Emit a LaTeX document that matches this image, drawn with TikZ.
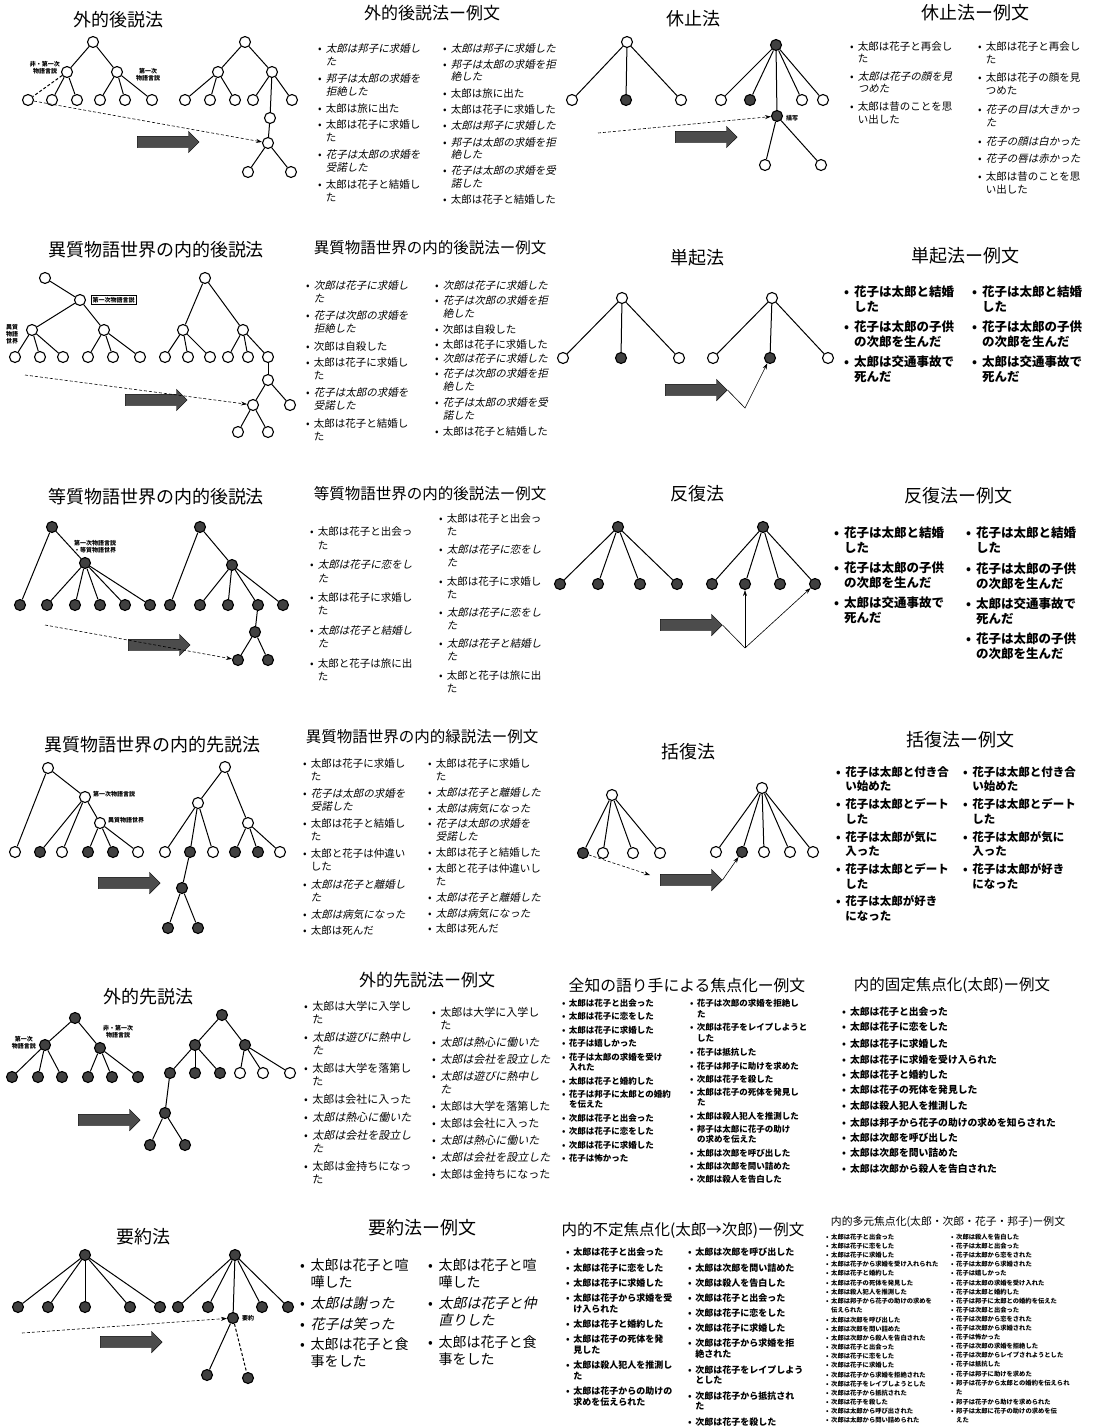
\documentclass[tikz,border=0pt]{standalone}
\usepackage{fontspec}
\usepackage{array}
\setmainfont{Noto Sans CJK JP}
\newfontfamily\slantjp[FakeSlant=0.22]{Noto Sans CJK JP}
\usetikzlibrary{arrows.meta,shapes.arrows}
\newlength{\itmgap}
\newcommand{\lst}[2]{\fontsize{#1}{#2}\selectfont}
% one bullet line, upright or slanted
\newcommand{\itm}[1]{\textbullet\hspace{0.4em}%
  \begin{tabular}[t]{@{}l@{}}#1\end{tabular}\par\vspace{\itmgap}}
\newcommand{\its}[1]{\textbullet\hspace{0.4em}%
  \begin{tabular}[t]{@{}>{\slantjp}l@{}}#1\end{tabular}\par\vspace{\itmgap}}

\begin{document}
\begin{tikzpicture}[x=1pt,y=-1pt,
  ev/.style={circle,draw,line width=1.1pt,fill=white,minimum size=11pt,inner sep=0pt},
  evd/.style={ev,fill=black!75},
  edge/.style={line width=1pt},
  jump/.style={densely dashed,line width=0.6pt,-{Stealth[length=6pt,width=4pt]}},
  thinarr/.style={line width=0.6pt,-{Stealth[length=6pt,width=4pt]}},
  bigarrow/.style={single arrow,draw=black,fill=black!70,minimum height=62pt,
    single arrow head extend=5pt,inner sep=5.5pt,anchor=west},
  ttl/.style={inner sep=0pt,font=\lst{#1}{#1}},
  tag/.style={inner sep=0pt,align=center,font=\lst{6}{7}\bfseries},
  exlist/.style={anchor=north west,inner sep=0pt,align=left,text width=#1},
  exlist/.default=130pt]
\fill[white] (0,0) rectangle (1095,1428);
\useasboundingbox (0,0) rectangle (1095,1428);

% ---------------- row 1: 外的後説法 / 休止法
\node[ttl=18] (tt1) at (118,20) {外的後説法};
\node[ev] (a0) at (93,42) {};
\node[ev] (a1) at (67,72) {};
\node[ev] (a2) at (117,72) {};
\foreach \n/\x in {3/28,4/52,5/77,6/100,7/125,8/152}
  \node[ev] (a\n) at (\x,100) {};
\draw[edge] (a0) -- (a1);
\draw[edge] (a0) -- (a2);
\draw[edge,densely dashed] (a1) -- (a3);
\foreach \n in {4,5} \draw[edge] (a1) -- (a\n);
\foreach \n in {6,7,8} \draw[edge] (a2) -- (a\n);
\node[tag] (a1t) at (45,68) {非・第一次\\物語言説};
\node[tag] (a2t) at (148,75) {第一次\\物語言説};
\node[ev] (b0) at (245,42) {};
\node[ev] (b1) at (218,72) {};
\node[ev] (b2) at (272,72) {};
\foreach \n/\x in {3/185,4/210,5/235,6/253,8/292}
  \node[ev] (b\n) at (\x,100) {};
\node[ev] (b7) at (270,118) {};
\node[ev] (b9) at (268,143) {};
\node[ev] (b10) at (248,172) {};
\node[ev] (b11) at (291,172) {};
\draw[edge] (b0) -- (b1);
\draw[edge] (b0) -- (b2);
\foreach \n in {3,4,5} \draw[edge] (b1) -- (b\n);
\foreach \n in {6,7,8} \draw[edge] (b2) -- (b\n);
\draw[edge] (b7) -- (b9);
\draw[edge] (b9) -- (b10);
\draw[edge] (b9) -- (b11);
\node[bigarrow] (ba1) at (137,142) {};
\draw[jump] (a3) -- (b9);

\node[ttl=17] (tt2) at (432,13) {外的後説法ー例文};
\node[exlist=130pt,font=\lst{10.5}{13}] (x1l) at (318,43) {\setlength{\itmgap}{3pt}%
  \its{太郎は邦子に求婚し\\た}
  \its{邦子は太郎の求婚を\\拒絶した}
  \itm{太郎は旅に出た}
  \itm{太郎は花子に求婚し\\た}
  \its{花子は太郎の求婚を\\受諾した}
  \itm{太郎は花子と結婚し\\た}};
\node[exlist=130pt,font=\lst{10.5}{12.5}] (x1r) at (443,43) {\setlength{\itmgap}{2.7pt}%
  \its{太郎は邦子に求婚した}
  \its{邦子は太郎の求婚を拒\\絶した}
  \itm{太郎は旅に出た}
  \itm{太郎は花子に求婚した}
  \its{太郎は邦子に求婚した}
  \its{邦子は太郎の求婚を拒\\絶した}
  \its{花子は太郎の求婚を受\\諾した}
  \itm{太郎は花子と結婚した}};

\node[ttl=18] (tt3) at (693,19) {休止法};
\node[ev] (c0) at (627,42) {};
\node[ev] (c1) at (572,100) {};
\node[evd] (c2) at (626,100) {};
\node[ev] (c3) at (681,100) {};
\foreach \n in {1,2,3} \draw[edge] (c0) -- (c\n);
\node[evd] (c4) at (776,45) {};
\node[ev] (c5) at (721,100) {};
\node[evd] (c6) at (750,100) {};
\node[evd] (c7) at (777,116) {};
\node[ev] (c8) at (802,100) {};
\node[ev] (c9) at (823,100) {};
\node[ev] (c10) at (765,165) {};
\node[ev] (c11) at (821,165) {};
\foreach \n in {5,6,7,8,9} \draw[edge] (c4) -- (c\n);
\draw[edge] (c7) -- (c10);
\draw[edge] (c7) -- (c11);
\node[tag,anchor=west] (c7t) at (786,118) {描写};
\node[bigarrow] (ba2) at (675,137) {};
\coordinate (c12) at (598,133);
\draw[jump] (c12) -- (c7);

\node[ttl=18] (tt4) at (975,13) {休止法ー例文};
\node[exlist=130pt,font=\lst{10.5}{12.5}] (x2l) at (850,41) {\setlength{\itmgap}{4.3pt}%
  \itm{太郎は花子と再会し\\た}
  \its{太郎は花子の顔を見\\つめた}
  \itm{太郎は昔のことを思\\い出した}};
\node[exlist=130pt,font=\lst{10.5}{13}] (x2r) at (978,41) {\setlength{\itmgap}{4.6pt}%
  \itm{太郎は花子と再会し\\た}
  \itm{太郎は花子の顔を見\\つめた}
  \its{花子の目は大きかっ\\た}
  \its{花子の顔は白かった}
  \its{花子の唇は赤かった}
  \itm{太郎は昔のことを思\\い出した}};

% ---------------- row 2: 異質物語世界の内的後説法 / 単起法
\node[ttl=18] (tt5) at (156,250) {異質物語世界の内的後説法};
\node[ev] (d0) at (45,278) {};
\node[ev] (d1) at (80,300) {};
\node[ev] (d2) at (32,330) {};
\node[ev] (d3) at (104,330) {};
\foreach \n/\x in {4/15,5/40,6/63,7/88,8/113,9/140}
  \node[ev] (d\n) at (\x,357) {};
\draw[edge] (d0) -- (d1);
\draw[edge] (d1) -- (d2);
\draw[edge] (d1) -- (d3);
\foreach \n in {4,5,6} \draw[edge] (d2) -- (d\n);
\foreach \n in {7,8,9} \draw[edge] (d3) -- (d\n);
\node[tag,draw,thin,inner sep=1.5pt,anchor=west] (d1t) at (91,300) {第一次物語言説};
\node[tag] (d2t) at (12,334) {異質\\物語\\世界};
\node[ev] (e0) at (205,278) {};
\node[ev] (e1) at (183,330) {};
\node[ev] (e2) at (243,330) {};
\foreach \n/\x in {3/165,4/188,5/210,6/228,7/248,8/268}
  \node[ev] (e\n) at (\x,357) {};
\node[ev] (e9) at (268,380) {};
\node[ev] (e10) at (253,405) {};
\node[ev] (e11) at (290,405) {};
\node[ev] (e12) at (238,432) {};
\node[ev] (e13) at (268,432) {};
\draw[edge] (e0) -- (e1);
\draw[edge] (e0) -- (e2);
\foreach \n in {3,4,5} \draw[edge] (e1) -- (e\n);
\foreach \n in {6,7,8} \draw[edge] (e2) -- (e\n);
\draw[edge] (e8) -- (e9);
\draw[edge] (e9) -- (e10);
\draw[edge] (e9) -- (e11);
\draw[edge] (e10) -- (e12);
\draw[edge] (e10) -- (e13);
\node[bigarrow] (ba3) at (125,400) {};
\coordinate (d10) at (25,375);
\draw[jump] (d10) -- (e10);

\node[ttl=15.5] (tt6) at (430,248) {異質物語世界の内的後説法ー例文};
\node[exlist=130pt,font=\lst{10.5}{13}] (x3l) at (306,280) {\setlength{\itmgap}{3.4pt}%
  \its{次郎は花子に求婚し\\た}
  \its{花子は次郎の求婚を\\拒絶した}
  \itm{次郎は自殺した}
  \itm{太郎は花子に求婚し\\た}
  \its{花子は太郎の求婚を\\受諾した}
  \itm{太郎は花子と結婚し\\た}};
\node[exlist=130pt,font=\lst{10.5}{13}] (x3r) at (435,280) {\setlength{\itmgap}{1.9pt}%
  \its{次郎は花子に求婚した}
  \its{花子は次郎の求婚を拒\\絶した}
  \itm{次郎は自殺した}
  \itm{太郎は花子に求婚した}
  \its{次郎は花子に求婚した}
  \its{花子は次郎の求婚を拒\\絶した}
  \its{花子は太郎の求婚を受\\諾した}
  \itm{太郎は花子と結婚した}};

\node[ttl=18] (tt7) at (697,258) {単起法};
\node[ev] (f0) at (622,298) {};
\node[ev] (f1) at (563,358) {};
\node[evd] (f2) at (621,358) {};
\node[ev] (f3) at (679,358) {};
\foreach \n in {1,2,3} \draw[edge] (f0) -- (f\n);
\node[ev] (g0) at (772,298) {};
\node[ev] (g1) at (713,358) {};
\node[evd] (g2) at (770,358) {};
\node[ev] (g3) at (828,358) {};
\foreach \n in {1,2,3} \draw[edge] (g0) -- (g\n);
\node[bigarrow] (ba4) at (665,390) {};
\coordinate (g4) at (745,408);
\draw[thinarr] (ba4.tip) -- (g4) -- (g2);

\node[ttl=18] (tt8) at (965,256) {単起法ー例文};
\node[exlist=130pt,font=\lst{12.5}{15}\bfseries] (x4l) at (844,286) {\setlength{\itmgap}{3.5pt}%
  \itm{花子は太郎と結婚\\した}
  \itm{花子は太郎の子供\\の次郎を生んだ}
  \itm{太郎は交通事故で\\死んだ}};
\node[exlist=130pt,font=\lst{12.5}{15}\bfseries] (x4r) at (972,286) {\setlength{\itmgap}{3.5pt}%
  \itm{花子は太郎と結婚\\した}
  \itm{花子は太郎の子供\\の次郎を生んだ}
  \itm{太郎は交通事故で\\死んだ}};

% ---------------- row 3: 等質物語世界の内的後説法 / 反復法
\node[ttl=18] (tt9) at (156,497) {等質物語世界の内的後説法};
\node[evd] (h0) at (52,527) {};
\node[evd] (h1) at (85,563) {};
\foreach \n/\x in {2/20,3/47,4/75,5/100,6/125,7/150}
  \node[evd] (h\n) at (\x,605) {};
\draw[edge] (h0) -- (h1);
\draw[edge] (h0) -- (h2);
\foreach \n in {3,...,7} \draw[edge] (h1) -- (h\n);
\node[tag] (h1t) at (95,547) {第一次物語言説\\・等質物語世界};
\node[evd] (i0) at (200,527) {};
\node[evd] (i1) at (232,565) {};
\foreach \n/\x in {2/170,3/200,4/228,5/258,6/283}
  \node[evd] (i\n) at (\x,605) {};
\node[evd] (i7) at (255,632) {};
\node[evd] (i8) at (238,660) {};
\node[evd] (i9) at (268,660) {};
\draw[edge] (i0) -- (i1);
\draw[edge] (i0) -- (i2);
\foreach \n in {3,...,6} \draw[edge] (i1) -- (i\n);
\draw[edge] (i5) -- (i7);
\draw[edge] (i7) -- (i8);
\draw[edge] (i7) -- (i9);
\node[bigarrow] (ba5) at (128,645) {};
\coordinate (h8) at (45,625);
\draw[jump] (h8) -- (i8);

\node[ttl=15.5] (tt10) at (430,494) {等質物語世界の内的後説法ー例文};
\node[exlist=130pt,font=\lst{10.5}{13.5}] (x5l) at (310,526) {\setlength{\itmgap}{4.9pt}%
  \itm{太郎は花子と出会っ\\た}
  \its{太郎は花子に恋をし\\た}
  \itm{太郎は花子に求婚し\\た}
  \its{太郎は花子と結婚し\\た}
  \itm{太郎と花子は旅に出\\た}};
\node[exlist=130pt,font=\lst{10.5}{13}] (x5r) at (439,513) {\setlength{\itmgap}{4.4pt}%
  \itm{太郎は花子と出会っ\\た}
  \its{太郎は花子に恋をし\\た}
  \itm{太郎は花子に求婚し\\た}
  \its{太郎は花子に恋をし\\た}
  \its{太郎は花子と結婚し\\た}
  \itm{太郎と花子は旅に出\\た}};

\node[ttl=18] (tt11) at (697,494) {反復法};
\node[evd] (j0) at (618,527) {};
\foreach \n/\x in {1/560,2/598,3/640,4/677}
  \node[evd] (j\n) at (\x,584) {};
\foreach \n in {1,...,4} \draw[edge] (j0) -- (j\n);
\node[evd] (k0) at (763,527) {};
\foreach \n/\x in {1/712,2/745,3/780,4/815}
  \node[evd] (k\n) at (\x,584) {};
\foreach \n in {1,...,4} \draw[edge] (k0) -- (k\n);
\node[bigarrow] (ba6) at (660,625) {};
\coordinate (k5) at (745,648);
\draw[line width=0.6pt] (ba6.tip) -- (k5);
\draw[thinarr] (k5) -- (k2);
\draw[thinarr] (k5) -- (k4);

\node[ttl=18] (tt12) at (958,496) {反復法ー例文};
\node[exlist=130pt,font=\lst{12.5}{15}\bfseries] (x6l) at (834,527) {\setlength{\itmgap}{3.5pt}%
  \itm{花子は太郎と結婚\\した}
  \itm{花子は太郎の子供\\の次郎を生んだ}
  \itm{太郎は交通事故で\\死んだ}};
\node[exlist=130pt,font=\lst{12.5}{15}\bfseries] (x6r) at (966,527) {\setlength{\itmgap}{4pt}%
  \itm{花子は太郎と結婚\\した}
  \itm{花子は太郎の子供\\の次郎を生んだ}
  \itm{太郎は交通事故で\\死んだ}
  \itm{花子は太郎の子供\\の次郎を生んだ}};

% ---------------- row 4: 異質物語世界の内的先説法 / 括復法
\node[ttl=18] (tt13) at (152,745) {異質物語世界の内的先説法};
\node[ev] (l0) at (48,768) {};
\node[ev] (l1) at (85,797) {};
\node[ev] (l2) at (100,823) {};
\node[ev] (l3) at (15,852) {};
\node[evd] (l4) at (40,852) {};
\node[ev] (l5) at (62,852) {};
\node[evd] (l6) at (88,852) {};
\node[evd] (l7) at (113,852) {};
\node[ev] (l8) at (138,852) {};
\draw[edge] (l0) -- (l3);
\draw[edge] (l0) -- (l1);
\foreach \n in {2,4,5} \draw[edge] (l1) -- (l\n);
\foreach \n in {6,7,8} \draw[edge] (l2) -- (l\n);
\node[tag,anchor=west] (l1t) at (93,794) {第一次物語言説};
\node[tag,anchor=west] (l2t) at (108,820) {異質物語世界};
\node[ev] (m0) at (225,767) {};
\node[ev] (m1) at (198,803) {};
\node[ev] (m2) at (248,823) {};
\node[ev] (m3) at (165,852) {};
\node[evd] (m4) at (190,852) {};
\node[ev] (m5) at (213,852) {};
\node[evd] (m6) at (235,852) {};
\node[evd] (m7) at (258,852) {};
\node[ev] (m8) at (280,852) {};
\node[evd] (m9) at (182,888) {};
\node[evd] (m10) at (168,928) {};
\node[evd] (m11) at (198,928) {};
\draw[edge] (m0) -- (m1);
\draw[edge] (m0) -- (m2);
\foreach \n in {3,4,5} \draw[edge] (m1) -- (m\n);
\foreach \n in {6,7,8} \draw[edge] (m2) -- (m\n);
\draw[edge] (m4) -- (m9);
\draw[edge] (m9) -- (m10);
\draw[edge] (m9) -- (m11);
\node[bigarrow] (ba7) at (98,883) {};

\node[ttl=15.5] (tt14) at (422,737) {異質物語世界の内的緑説法ー例文};
\node[exlist=130pt,font=\lst{10.5}{13}] (x7l) at (303,758) {\setlength{\itmgap}{3.2pt}%
  \itm{太郎は花子に求婚し\\た}
  \its{花子は太郎の求婚を\\受諾した}
  \itm{太郎は花子と結婚し\\た}
  \itm{太郎と花子は仲違い\\した}
  \its{太郎は花子と離婚し\\た}
  \its{太郎は病気になった}
  \itm{太郎は死んだ}};
\node[exlist=130pt,font=\lst{10.5}{13}] (x7r) at (428,758) {\setlength{\itmgap}{2.4pt}%
  \itm{太郎は花子に求婚し\\た}
  \its{太郎は花子と離婚した}
  \its{太郎は病気になった}
  \its{花子は太郎の求婚を\\受諾した}
  \itm{太郎は花子と結婚した}
  \itm{太郎と花子は仲違いし\\た}
  \its{太郎は花子と離婚した}
  \its{太郎は病気になった}
  \itm{太郎は死んだ}};

\node[ttl=18] (tt15) at (688,752) {括復法};
\node[ev] (n0) at (612,795) {};
\node[evd] (n1) at (583,853) {};
\node[ev] (n2) at (603,853) {};
\node[ev] (n3) at (633,853) {};
\node[ev] (n4) at (660,853) {};
\foreach \n in {1,...,4} \draw[edge] (n0) -- (n\n);
\node[ev] (o0) at (762,788) {};
\node[ev] (o1) at (716,852) {};
\node[evd] (o2) at (742,852) {};
\node[ev] (o3) at (764,852) {};
\node[ev] (o4) at (790,852) {};
\node[ev] (o5) at (813,852) {};
\foreach \n in {1,...,5} \draw[edge] (o0) -- (o\n);
\node[bigarrow] (ba8) at (660,880) {};
\coordinate (n5) at (650,875);
\draw[jump] (n1) -- (n5);
\draw[thinarr] (ba8.tip) -- (o2);

\node[ttl=18] (tt16) at (960,740) {括復法ー例文};
\node[exlist=130pt,font=\lst{11.5}{14.5}\bfseries] (x8l) at (836,766) {\setlength{\itmgap}{2.4pt}%
  \itm{花子は太郎と付き合\\い始めた}
  \itm{花子は太郎とデート\\した}
  \itm{花子は太郎が気に\\入った}
  \itm{花子は太郎とデート\\した}
  \itm{花子は太郎が好き\\になった}};
\node[exlist=130pt,font=\lst{11.5}{14.5}\bfseries] (x8r) at (963,766) {\setlength{\itmgap}{2.5pt}%
  \itm{花子は太郎と付き合\\い始めた}
  \itm{花子は太郎とデート\\した}
  \itm{花子は太郎が気に\\入った}
  \itm{花子は太郎が好き\\になった}};

% ---------------- row 5: 外的先説法 / 焦点化
\node[ttl=18] (tt17) at (148,997) {外的先説法};
\node[evd] (q0) at (75,1018) {};
\node[evd] (q1) at (45,1045) {};
\node[evd] (q2) at (100,1048) {};
\foreach \n/\x in {3/12,4/38,5/62,6/88,7/112,8/138}
  \node[evd] (q\n) at (\x,1077) {};
\draw[edge] (q0) -- (q1);
\draw[edge] (q0) -- (q2);
\foreach \n in {3,4,5} \draw[edge] (q1) -- (q\n);
\foreach \n in {6,7,8} \draw[edge] (q2) -- (q\n);
\node[tag] (q1t) at (24,1043) {第一次\\物語言説};
\node[tag] (q2t) at (118,1032) {非・第一次\\物語言説};
\node[evd] (r0) at (222,1015) {};
\node[evd] (r1) at (195,1045) {};
\node[evd] (r2) at (245,1045) {};
\foreach \n/\x in {3/170,4/195,5/220} \node[evd] (r\n) at (\x,1073) {};
\foreach \n/\x in {6/240,7/263,8/290} \node[ev] (r\n) at (\x,1073) {};
\node[evd] (r9) at (165,1113) {};
\node[evd] (r10) at (150,1145) {};
\node[evd] (r11) at (185,1145) {};
\draw[edge] (r0) -- (r1);
\draw[edge] (r0) -- (r2);
\foreach \n in {3,4,5} \draw[edge] (r1) -- (r\n);
\foreach \n in {6,7,8} \draw[edge] (r2) -- (r\n);
\draw[edge] (r3) -- (r9);
\draw[edge] (r9) -- (r10);
\draw[edge] (r9) -- (r11);
\node[bigarrow] (ba9) at (78,1120) {};

\node[ttl=17] (tt18) at (427,980) {外的先説法ー例文};
\node[exlist=130pt,font=\lst{11}{13}] (x9l) at (304,1001) {\setlength{\itmgap}{3.8pt}%
  \itm{太郎は大学に入学し\\た}
  \its{太郎は遊びに熱中し\\た}
  \itm{太郎は大学を落第し\\た}
  \itm{太郎は会社に入った}
  \its{太郎は熱心に働いた}
  \its{太郎は会社を設立し\\た}
  \itm{太郎は金持ちになっ\\た}};
\node[exlist=130pt,font=\lst{11}{13}] (x9r) at (432,1007) {\setlength{\itmgap}{2.9pt}%
  \itm{太郎は大学に入学し\\た}
  \its{太郎は熱心に働いた}
  \its{太郎は会社を設立した}
  \its{太郎は遊びに熱中し\\た}
  \itm{太郎は大学を落第した}
  \itm{太郎は会社に入った}
  \its{太郎は熱心に働いた}
  \its{太郎は会社を設立した}
  \itm{太郎は金持ちになった}};

\node[ttl=15.8] (tt19) at (687,985) {全知の語り手による焦点化ー例文};
\node[exlist=130pt,font=\lst{8.5}{10.5}\bfseries] (x10l) at (562,999) {\setlength{\itmgap}{2.4pt}%
  \itm{太郎は花子と出会った}
  \itm{太郎は花子に恋をした}
  \itm{太郎は花子に求婚した}
  \itm{花子は嬉しかった}
  \itm{花子は太郎の求婚を受け\\入れた}
  \itm{太郎は花子と婚約した}
  \itm{花子は邦子に太郎との婚約\\を伝えた}
  \itm{次郎は花子と出会った}
  \itm{次郎は花子に恋をした}
  \itm{次郎は花子に求婚した}
  \itm{花子は怖かった}};
\node[exlist=130pt,font=\lst{8.5}{10.5}\bfseries] (x10r) at (690,999) {\setlength{\itmgap}{2.4pt}%
  \itm{花子は次郎の求婚を拒絶し\\た}
  \itm{次郎は花子をレイプしようと\\した}
  \itm{花子は抵抗した}
  \itm{花子は邦子に助けを求めた}
  \itm{次郎は花子を殺した}
  \itm{太郎は花子の死体を発見し\\た}
  \itm{太郎は殺人犯人を推測した}
  \itm{邦子は太郎に花子の助け\\の求めを伝えた}
  \itm{太郎は次郎を呼び出した}
  \itm{太郎は次郎を問い詰めた}
  \itm{次郎は殺人を告白した}};

\node[ttl=15.5] (tt20) at (952,985) {内的固定焦点化(太郎)ー例文};
\node[exlist=240pt,font=\lst{9.8}{12}\bfseries] (x11) at (842,1007) {\setlength{\itmgap}{3.2pt}%
  \itm{太郎は花子と出会った}
  \itm{太郎は花子に恋をした}
  \itm{太郎は花子に求婚した}
  \itm{太郎は花子に求婚を受け入られた}
  \itm{太郎は花子と婚約した}
  \itm{太郎は花子の死体を発見した}
  \itm{太郎は殺人犯人を推測した}
  \itm{太郎は邦子から花子の助けの求めを知らされた}
  \itm{太郎は次郎を呼び出した}
  \itm{太郎は次郎を問い詰めた}
  \itm{太郎は次郎から殺人を告白された}};

% ---------------- row 6: 要約法 / 焦点化
\node[ttl=18] (tt21) at (143,1237) {要約法};
\node[evd] (s0) at (85,1255) {};
\foreach \n/\x in {1/18,2/48,3/85,4/130,5/160}
  \node[evd] (s\n) at (\x,1307) {};
\foreach \n in {1,...,5} \draw[edge] (s0) -- (s\n);
\node[evd] (t0) at (235,1255) {};
\node[evd] (t1) at (178,1307) {};
\node[evd] (t2) at (208,1307) {};
\node[evd] (t3) at (233,1318) {};
\node[evd] (t4) at (262,1307) {};
\node[evd] (t5) at (288,1307) {};
\node[evd] (t6) at (207,1375) {};
\node[evd] (t7) at (248,1378) {};
\foreach \n in {1,...,5} \draw[edge] (t0) -- (t\n);
\draw[edge] (t3) -- (t6);
\draw[edge,densely dashed] (t3) -- (t7);
\node[tag,anchor=west] (t3t) at (242,1318) {要約};
\node[bigarrow] (ba10) at (100,1342) {};
\coordinate (s6) at (22,1333);
\draw[jump] (s6) -- (t3);

\node[ttl=18] (tt22) at (422,1228) {要約法ー例文};
\node[exlist=130pt,font=\lst{14}{17}] (x12l) at (300,1258) {\setlength{\itmgap}{3.5pt}%
  \itm{太郎は花子と喧\\嘩した}
  \its{太郎は謝った}
  \its{花子は笑った}
  \itm{太郎は花子と食\\事をした}};
\node[exlist=130pt,font=\lst{14}{17}] (x12r) at (428,1258) {\setlength{\itmgap}{3.5pt}%
  \itm{太郎は花子と喧\\嘩した}
  \its{太郎は花子と仲\\直りした}
  \itm{太郎は花子と食\\事をした}};

\node[ttl=15.5] (tt23) at (683,1230) {内的不定焦点化(太郎→次郎)ー例文};
\node[exlist=130pt,font=\lst{9}{10.8}\bfseries] (x13l) at (566,1248) {\setlength{\itmgap}{3.2pt}%
  \itm{太郎は花子と出会った}
  \itm{太郎は花子に恋をした}
  \itm{太郎は花子に求婚した}
  \itm{太郎は花子から求婚を受\\け入られた}
  \itm{太郎は花子と婚約した}
  \itm{太郎は花子の死体を発\\見した}
  \itm{太郎は殺人犯人を推測し\\た}
  \itm{太郎は花子からの助けの\\求めを伝えられた}};
\node[exlist=130pt,font=\lst{9}{10.8}\bfseries] (x13r) at (688,1248) {\setlength{\itmgap}{3.2pt}%
  \itm{太郎は次郎を呼び出した}
  \itm{太郎は次郎を問い詰めた}
  \itm{次郎は殺人を告白した}
  \itm{次郎は花子と出会った}
  \itm{次郎は花子に恋をした}
  \itm{次郎は花子に求婚した}
  \itm{次郎は花子から求婚を拒\\絶された}
  \itm{次郎は花子をレイプしよう\\とした}
  \itm{次郎は花子から抵抗され\\た}
  \itm{次郎は花子を殺した}};

\node[ttl=10.8] (tt24) at (948,1222) {内的多元焦点化(太郎・次郎・花子・邦子)ー例文};
\node[exlist=125pt,font=\lst{6.3}{9.1}\bfseries] (x14l) at (826,1233) {\setlength{\itmgap}{0pt}%
  \itm{太郎は花子と出会った}
  \itm{太郎は花子に恋をした}
  \itm{太郎は花子に求婚した}
  \itm{太郎は花子から求婚を受け入れられた}
  \itm{太郎は花子と婚約した}
  \itm{太郎は花子の死体を発見した}
  \itm{太郎は殺人犯人を推測した}
  \itm{太郎は邦子から花子の助けの求めを\\伝えられた}
  \itm{太郎は次郎を呼び出した}
  \itm{太郎は次郎を問い詰めた}
  \itm{太郎は次郎から殺人を告白された}
  \itm{次郎は花子と出会った}
  \itm{次郎は花子に恋をした}
  \itm{次郎は花子に求婚した}
  \itm{次郎は花子から求婚を拒絶された}
  \itm{次郎は花子をレイプしようとした}
  \itm{次郎は花子から抵抗された}
  \itm{次郎は花子を殺した}
  \itm{次郎は太郎から呼び出された}
  \itm{次郎は太郎から問い詰められた}};
\node[exlist=125pt,font=\lst{6.3}{9.1}\bfseries] (x14r) at (951,1233) {\setlength{\itmgap}{0pt}%
  \itm{次郎は殺人を告白した}
  \itm{花子は太郎と出会った}
  \itm{花子は太郎から恋をされた}
  \itm{花子は太郎から求婚された}
  \itm{花子は嬉しかった}
  \itm{花子は太郎の求婚を受け入れた}
  \itm{花子は太郎と婚約した}
  \itm{花子は邦子に太郎との婚約を伝えた}
  \itm{花子は次郎と出会った}
  \itm{花子は次郎から恋をされた}
  \itm{花子は次郎から求婚された}
  \itm{花子は怖かった}
  \itm{花子は次郎の求婚を拒絶した}
  \itm{花子は次郎からレイプされようとした}
  \itm{花子は抵抗した}
  \itm{花子は邦子に助けを求めた}
  \itm{邦子は花子から太郎との婚約を伝えられ\\た}
  \itm{邦子は花子から助けを求められた}
  \itm{邦子は太郎に花子の助けの求めを伝\\えた}};
\end{tikzpicture}
\end{document}
